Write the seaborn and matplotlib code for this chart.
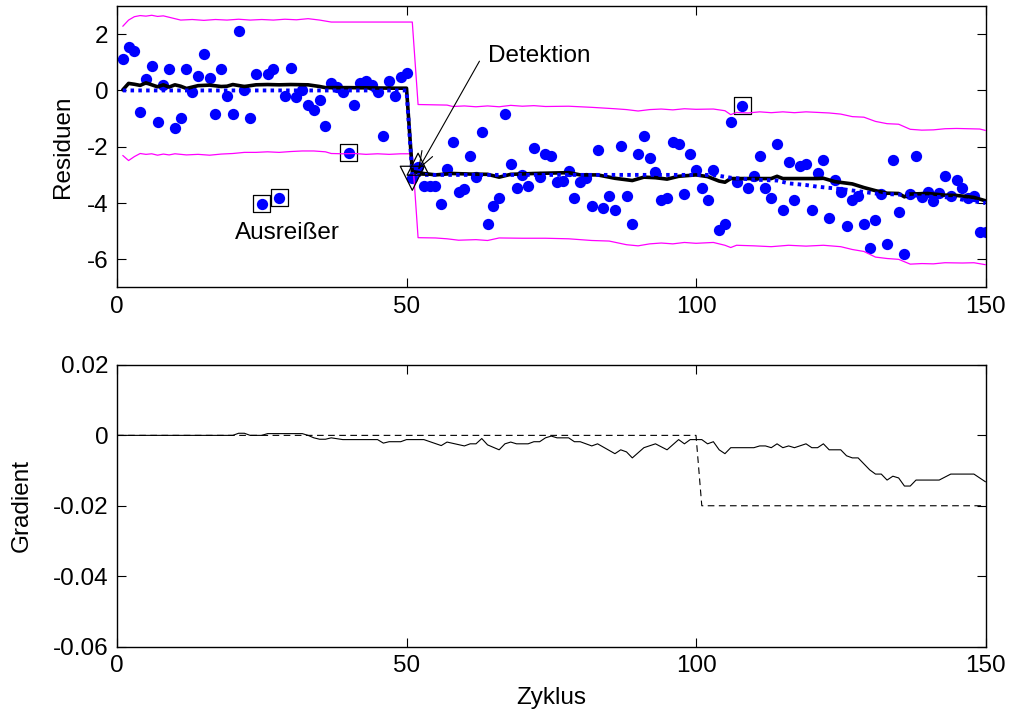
import numpy as np
import pandas as pd
import matplotlib
matplotlib.use("Agg")
import matplotlib.pyplot as plt
import seaborn as sns

# ---------------- data ----------------
cycles = list(range(1, 151))
residuals = [
    1.10, 1.53, 1.39, -0.76, 0.42, 0.88, -1.11, 0.20, 0.75, -1.34,
    -0.97, 0.75, -0.05, 0.52, 1.31, 0.46, -0.83, 0.75, -0.19, -0.83,
    2.10, 0.02, -0.97, 0.59, -4.03, 0.59, 0.75, -3.81, -0.19, 0.81,
    -0.25, 0.02, -0.53, -0.69, -0.33, -1.26, 0.27, 0.14, -0.06, -2.22,
    -0.53, 0.25, 0.34, 0.18, -0.07, -1.61, 0.32, -0.18, 0.47, 0.62,
    -3.12, -2.71, -3.39, -3.39, -3.39, -4.04, -2.80, -1.83, -3.61, -3.51,
    -2.32, -3.06, -1.47, -4.75, -4.12, -3.82, -0.83, -2.60, -3.46, -3.01,
    -3.39, -2.04, -3.06, -2.24, -2.33, -3.25, -3.20, -2.86, -3.82, -3.25,
    -3.12, -4.12, -2.11, -4.19, -3.76, -4.25, -1.97, -3.76, -4.75, -2.25,
    -1.61, -2.40, -2.88, -3.90, -3.82, -1.83, -1.90, -3.68, -2.25, -2.82,
    -3.46, -3.89, -2.82, -4.96, -4.74, -1.11, -3.25, -0.55, -3.46, -3.03,
    -2.33, -3.46, -3.82, -1.90, -4.25, -2.53, -3.89, -2.68, -2.60, -4.25,
    -2.95, -2.47, -4.53, -3.17, -3.61, -4.82, -3.89, -3.75, -4.75, -5.60,
    -4.60, -3.68, -5.46, -2.47, -4.32, -5.81, -3.68, -2.33, -3.78, -3.62,
    -3.91, -3.64, -3.04, -3.75, -3.18, -3.46, -3.82, -3.75, -5.03, -5.03,
]
outlier_cycles = [25, 28, 40, 108]

est_x = [1, 2, 3, 4, 5, 6, 7, 8, 9, 10, 11, 12, 13, 14, 16, 18, 19, 20, 22, 24,
         26, 28, 30, 33, 35, 36, 40, 44, 48, 50, 51, 53, 55, 58, 61, 64, 66, 68,
         72, 78, 80, 83, 86, 89, 91, 93, 95, 97, 100, 102, 104, 105, 106, 113,
         114, 115, 121, 122, 124, 127, 129, 131, 133, 135, 136, 137, 140, 143,
         145, 148, 150]
est_y = [0.02, 0.25, 0.22, 0.18, 0.27, 0.20, 0.13, 0.20, 0.12, 0.20, 0.15, 0.07,
         0.12, 0.17, 0.19, 0.14, 0.15, 0.21, 0.14, 0.20, 0.21, 0.20, 0.21, 0.20,
         0.14, 0.10, 0.10, 0.09, 0.08, 0.08, -2.88, -2.95, -3.00, -2.95, -2.97,
         -2.98, -3.08, -2.98, -2.95, -2.92, -3.00, -3.00, -3.12, -3.20, -3.08,
         -3.10, -3.15, -3.05, -3.00, -3.06, -3.22, -3.26, -3.13, -3.13, -3.05,
         -3.13, -3.13, -3.12, -3.24, -3.32, -3.45, -3.56, -3.65, -3.66, -3.78,
         -3.68, -3.66, -3.72, -3.73, -3.80, -3.92]

trend_x = [1, 50, 51, 103, 106, 110, 114, 116, 119, 121, 125, 128, 131, 137,
           141, 144, 146, 150]
trend_y = [0.0, 0.0, -3.0, -3.0, -3.10, -3.17, -3.20, -3.30, -3.36, -3.42,
           -3.50, -3.58, -3.66, -3.72, -3.78, -3.80, -3.88, -4.00]

upper_x = [1, 2, 3, 4, 5, 6, 7, 8, 9, 10, 11, 13, 15, 17, 19, 21, 23, 25, 27,
           29, 31, 33, 35, 37, 51, 52, 57, 58, 60, 62, 64, 66, 68, 70, 72, 74,
           78, 82, 86, 88, 90, 92, 94, 96, 98, 100, 103, 105, 106, 107, 109,
           111, 113, 115, 117, 119, 121, 123, 125, 127, 129, 131, 133, 135,
           137, 139, 141, 143, 145, 147, 149, 150]
upper_y = [2.28, 2.50, 2.62, 2.66, 2.64, 2.67, 2.63, 2.65, 2.60, 2.55, 2.50,
           2.52, 2.49, 2.52, 2.50, 2.53, 2.50, 2.52, 2.50, 2.53, 2.51, 2.55,
           2.50, 2.43, 2.43, -0.50, -0.52, -0.57, -0.55, -0.58, -0.55, -0.58,
           -0.53, -0.56, -0.54, -0.57, -0.56, -0.60, -0.65, -0.68, -0.73,
           -0.68, -0.66, -0.69, -0.65, -0.67, -0.66, -0.72, -0.86, -0.78,
           -0.80, -0.76, -0.79, -0.76, -0.79, -0.76, -0.78, -0.80, -0.84,
           -0.93, -0.95, -1.10, -1.18, -1.20, -1.38, -1.41, -1.40, -1.36,
           -1.35, -1.36, -1.37, -1.42]

lower_x = [1, 2, 3, 4, 5, 6, 7, 8, 9, 10, 12, 14, 16, 18, 20, 22, 24, 26, 28,
           30, 32, 34, 36, 37, 39, 41, 43, 45, 47, 49, 51, 52, 55, 57, 59, 62,
           64, 66, 70, 74, 78, 82, 85, 88, 90, 92, 94, 96, 98, 100, 103, 105,
           106, 107, 110, 113, 116, 119, 122, 125, 127, 129, 131, 133, 135,
           137, 139, 141, 143, 146, 148, 150]
lower_y = [-2.31, -2.49, -2.35, -2.24, -2.27, -2.25, -2.30, -2.26, -2.29,
           -2.25, -2.29, -2.27, -2.30, -2.26, -2.24, -2.20, -2.20, -2.18,
           -2.20, -2.17, -2.15, -2.15, -2.18, -2.24, -2.25, -2.24, -2.27,
           -2.25, -2.27, -2.25, -2.25, -5.23, -5.24, -5.27, -5.32, -5.30,
           -5.33, -5.24, -5.25, -5.25, -5.27, -5.33, -5.35, -5.48, -5.52,
           -5.45, -5.42, -5.45, -5.40, -5.43, -5.40, -5.50, -5.58, -5.50,
           -5.52, -5.55, -5.50, -5.53, -5.50, -5.55, -5.65, -5.72, -5.92,
           -5.97, -6.00, -6.17, -6.15, -6.16, -6.12, -6.13, -6.12, -6.19]

detect_x = [51, 52]
detect_y = [-3.12, -2.62]

grad_x = [0, 20, 21, 22, 23, 25, 26, 32, 33, 34, 35, 36, 37, 39, 45, 46, 47,
          49, 50, 53, 56, 57, 60, 61, 62, 63, 64, 66, 67, 68, 69, 71, 72, 73,
          74, 75, 76, 78, 79, 80, 82, 83, 86, 87, 88, 89, 91, 93, 95, 97, 98,
          99, 101, 102, 103, 104, 105, 106, 110, 111, 112, 113, 114, 115, 116,
          117, 119, 120, 121, 122, 123, 125, 126, 127, 128, 130, 131, 132, 133,
          134, 135, 136, 137, 138, 142, 144, 148, 150]
grad_y = [0.0, 0.0, 0.0006, 0.0006, 0.0, 0.0, 0.0005, 0.0005, 0.0, -0.0007,
          -0.0011, -0.0011, -0.0007, -0.0012, -0.0012, -0.0022, -0.0018,
          -0.0018, -0.0012, -0.0012, -0.0029, -0.0019, -0.0030, -0.0024,
          -0.0024, -0.0009, -0.0027, -0.0041, -0.0024, -0.0019, -0.0024,
          -0.0024, -0.0018, -0.0018, -0.0007, -0.0002, -0.0007, -0.0007,
          -0.0018, -0.0018, -0.0030, -0.0024, -0.0052, -0.0041, -0.0047,
          -0.0064, -0.0035, -0.0024, -0.0041, -0.0012, -0.0024, -0.0012,
          -0.0012, -0.0024, -0.0018, -0.0041, -0.0052, -0.0035, -0.0035,
          -0.0030, -0.0030, -0.0035, -0.0024, -0.0035, -0.0030, -0.0035,
          -0.0024, -0.0035, -0.0035, -0.0024, -0.0041, -0.0041, -0.0058,
          -0.0064, -0.0064, -0.0098, -0.0110, -0.0110, -0.0127, -0.0116,
          -0.0121, -0.0144, -0.0144, -0.0127, -0.0127, -0.0110, -0.0110,
          -0.0132]
limit_x = [0, 100, 101, 150]
limit_y = [0.0, 0.0, -0.02, -0.02]

top_xticks = [0, 50, 100, 150]
top_yticks = [-6, -4, -2, 0, 2]
bot_yticks = [-0.06, -0.04, -0.02, 0, 0.02]
bot_yticklabels = ["-0.06", "-0.04", "-0.02", "0", "0.02"]

# ---------------- style ----------------
sns.set_theme(style="ticks")
plt.rcParams["font.family"] = ["Liberation Sans", "DejaVu Sans"]
plt.rcParams["axes.unicode_minus"] = False
FS = 17.5
plt.rcParams.update({
    "font.size": FS,
    "axes.labelsize": FS,
    "xtick.labelsize": FS,
    "ytick.labelsize": FS,
    "xtick.direction": "in",
    "ytick.direction": "in",
    "xtick.top": True,
    "ytick.right": True,
    "xtick.major.size": 6.5,
    "ytick.major.size": 6.5,
    "xtick.major.width": 0.8,
    "ytick.major.width": 0.8,
    "axes.linewidth": 1.0,
    "axes.edgecolor": "black",
    "xtick.color": "black",
    "ytick.color": "black",
    "text.color": "black",
    "axes.labelcolor": "black",
})

fig = plt.figure(figsize=(10.11, 7.18), dpi=100)
W, H = 1011, 718
ax1 = fig.add_axes([117 / W, 1 - 287.5 / H, 868.5 / W, 281.5 / H])
ax2 = fig.add_axes([117 / W, 1 - 646.5 / H, 868.5 / W, 281.5 / H])

# ---------------- top panel ----------------
df_res = pd.DataFrame({"Zyklus": cycles, "Residuen": residuals})
sns.scatterplot(data=df_res, x="Zyklus", y="Residuen", ax=ax1, color="#0000ff",
                s=66, linewidth=0, zorder=2, legend=False)

out_df = df_res[df_res["Zyklus"].isin(outlier_cycles)]
sns.scatterplot(data=out_df, x="Zyklus", y="Residuen", ax=ax1, marker="s",
                s=150, facecolor="none", edgecolor="black", linewidth=0.9,
                zorder=3, legend=False)

sns.lineplot(x=est_x, y=est_y, ax=ax1, color="black", lw=2.6,
             estimator=None, sort=False, zorder=4)
sns.lineplot(x=trend_x, y=trend_y, ax=ax1, color="#0000ff", lw=2.8,
             linestyle=(0, (0.9, 1.1)), estimator=None, sort=False, zorder=5)
sns.lineplot(x=upper_x, y=upper_y, ax=ax1, color="#ff00ff", lw=0.9,
             estimator=None, sort=False, zorder=3)
sns.lineplot(x=lower_x, y=lower_y, ax=ax1, color="#ff00ff", lw=0.9,
             estimator=None, sort=False, zorder=3)

sns.scatterplot(x=detect_x[:1], y=detect_y[:1], ax=ax1, marker="v", s=300,
                facecolor="none", edgecolor="black", linewidth=0.9, zorder=6,
                legend=False)
sns.scatterplot(x=detect_x[1:], y=detect_y[1:], ax=ax1, marker="^", s=250,
                facecolor="none", edgecolor="black", linewidth=0.9, zorder=6,
                legend=False)

ax1.annotate("", xy=(52.0, -2.82), xytext=(62.6, 1.04),
             arrowprops=dict(arrowstyle="->,head_length=0.7,head_width=0.25",
                             lw=0.8, color="black", shrinkA=0, shrinkB=0),
             zorder=7)
ax1.text(64.0, 1.21, "Detektion", ha="left", va="center", fontsize=FS)
ax1.text(20.4, -5.05, "Ausreißer", ha="left", va="center", fontsize=FS)

ax1.set_xlim(0, 150)
ax1.set_ylim(-7, 3)
ax1.set_xticks(top_xticks)
ax1.set_yticks(top_yticks)
ax1.set_xlabel("")
ax1.set_ylabel("Residuen")
ax1.yaxis.set_label_coords(-0.05, 0.5)

# ---------------- bottom panel ----------------
sns.lineplot(x=limit_x, y=limit_y, ax=ax2, color="black", lw=0.8,
             linestyle=(0, (6, 4)), estimator=None, sort=False)
sns.lineplot(x=grad_x, y=grad_y, ax=ax2, color="black", lw=0.8,
             estimator=None, sort=False)

ax2.set_xlim(0, 150)
ax2.set_ylim(-0.06, 0.02)
ax2.set_xticks(top_xticks)
ax2.set_yticks(bot_yticks)
ax2.set_yticklabels(bot_yticklabels)
ax2.set_xlabel("Zyklus")
ax2.set_ylabel("Gradient")
ax2.yaxis.set_label_coords(-0.097, 0.5)
ax2.xaxis.set_label_coords(0.5, -0.145)

for ax in (ax1, ax2):
    for sp in ax.spines.values():
        sp.set_visible(True)
        sp.set_color("black")
    ax.tick_params(which="both", direction="in", top=True, right=True, pad=6)

fig.savefig("out.png", dpi=100)
